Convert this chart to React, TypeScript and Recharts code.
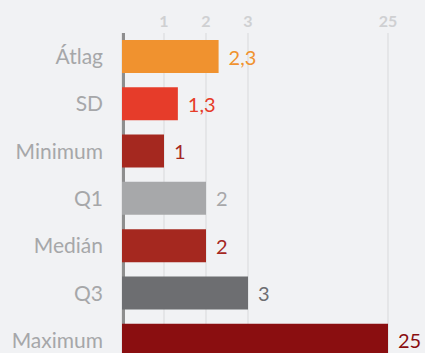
import React from "react";
import { BarChart, Bar, XAxis, YAxis, CartesianGrid, Cell, LabelList } from "recharts";

const categories = ["Átlag", "SD", "Minimum", "Q1", "Medián", "Q3", "Maximum"];
const values = [2.3, 1.33, 1, 2, 2, 3, 25];
const tickValues = [1, 2, 3, 25];

const colors = ["#f0922f", "#e63c2a", "#a5281f", "#a7a8aa", "#a5281f", "#6d6e71", "#8a0e10"];

const data = categories.map((name, i) => ({ name, value: values[i] }));

// broken axis: 0..3 linear on the left part, 3..25 squeezed into the rest
const BREAK = 3;
const BREAK_FRAC = 126 / 266;

function brokenScale(): any {
  let dom = [0, 25];
  let rng = [0, 1];
  const s: any = (v: number) => {
    const [d0, d1] = dom;
    const [r0, r1] = rng;
    let t;
    if (v <= BREAK) t = ((v - d0) / (BREAK - d0)) * BREAK_FRAC;
    else t = BREAK_FRAC + ((v - BREAK) / (d1 - BREAK)) * (1 - BREAK_FRAC);
    return r0 + t * (r1 - r0);
  };
  s.domain = (d?: any[]) => {
    if (d === undefined) return dom.slice();
    dom = d.map(Number);
    return s;
  };
  s.range = (r?: any[]) => {
    if (r === undefined) return rng.slice();
    rng = r.map(Number);
    return s;
  };
  s.invert = (px: number) => {
    const [d0, d1] = dom;
    const [r0, r1] = rng;
    const t = (px - r0) / (r1 - r0);
    if (t <= BREAK_FRAC) return d0 + (t / BREAK_FRAC) * (BREAK - d0);
    return BREAK + ((t - BREAK_FRAC) / (1 - BREAK_FRAC)) * (d1 - BREAK);
  };
  s.ticks = () => tickValues.slice();
  s.tickFormat = () => (v: number) => String(v);
  s.copy = () => {
    const c = brokenScale();
    c.domain(dom);
    c.range(rng);
    return c;
  };
  return s;
}

const fmt = (v: number) => v.toLocaleString("hu-HU", { maximumFractionDigits: 1 });

const font = "Lato, 'Noto Sans', sans-serif";

const renderLabel = (props: any) => {
  const { x, y, width, height, value, index } = props;
  return (
    <text
      x={x + width + 10}
      y={y + height / 2}
      dominantBaseline="central"
      fill={colors[index]}
      fontSize={20}
      fontFamily={font}
    >
      {fmt(value)}
    </text>
  );
};

export default function App() {
  return (
    <div
      style={{
        position: "absolute",
        left: 0,
        top: 0,
        width: 425,
        height: 353,
        overflow: "hidden",
        background: "#f1f2f4",
      }}
    >
      <BarChart
        width={425}
        height={364}
        data={data}
        layout="vertical"
        margin={{ top: 0, right: 37, bottom: 0, left: 0 }}
        barCategoryGap={0}
      >
        <CartesianGrid horizontal={false} stroke="#d8d9db" strokeWidth={1} />
        <CartesianGrid
          horizontal={false}
          stroke="#8e8e8e"
          strokeWidth={3}
          verticalCoordinatesGenerator={({ offset }: any) => [offset.left + 1.5]}
        />
        <XAxis
          type="number"
          orientation="top"
          domain={[0, 25]}
          ticks={tickValues}
          scale={brokenScale()}
          height={33}
          axisLine={false}
          tickLine={false}
          tickSize={0}
          tickMargin={6}
          tick={{ fill: "#cfd0d2", fontSize: 16, fontWeight: 700, fontFamily: font }}
        />
        <YAxis
          type="category"
          dataKey="name"
          width={122}
          axisLine={false}
          tickLine={false}
          tickSize={0}
          tickMargin={19}
          tick={{ fill: "#a6a7a9", fontSize: 21, fontFamily: font }}
        />
        <Bar dataKey="value" barSize={33} isAnimationActive={false}>
          {data.map((d, i) => (
            <Cell key={d.name} fill={colors[i]} />
          ))}
          <LabelList dataKey="value" content={renderLabel} />
        </Bar>
      </BarChart>
    </div>
  );
}
